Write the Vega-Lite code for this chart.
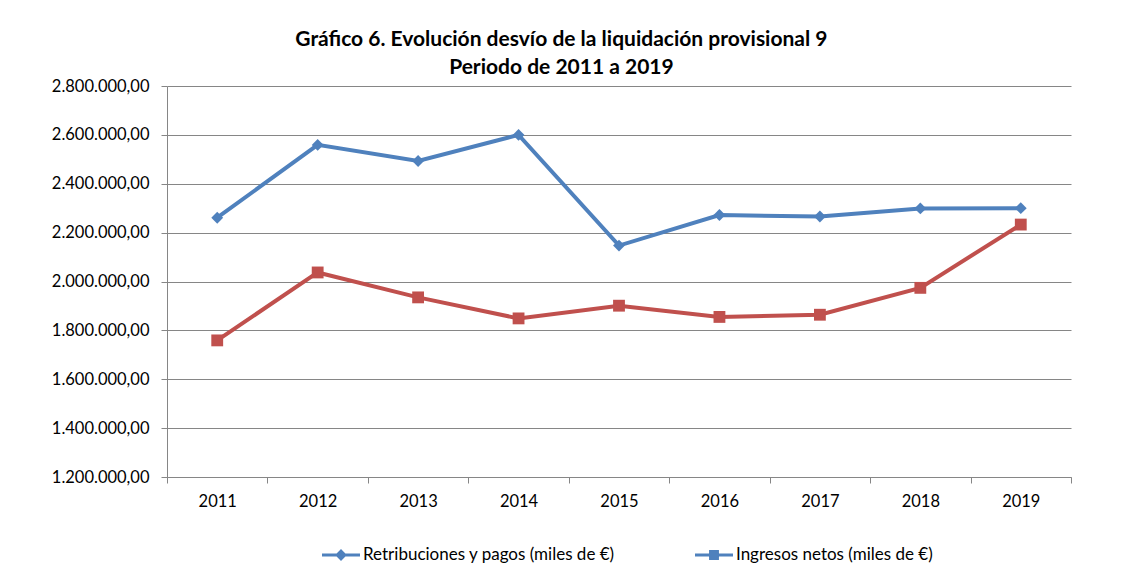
{
  "$schema": "https://vega.github.io/schema/vega-lite/v6.json",
  "width": 904,
  "height": 391,
  "autosize": {"type": "none"},
  "padding": {"left": 167, "top": 86, "right": 58, "bottom": 101},
  "background": "white",
  "config": {
    "font": "Lato",
    "view": {"stroke": null},
    "locale": {"number": {"decimal": ",", "thousands": ".", "grouping": [3], "currency": ["", " €"]}},
    "axis": {"labelFont": "Lato", "labelFontSize": 16.5, "labelColor": "#000000", "domainColor": "#868686", "tickColor": "#868686", "gridColor": "#868686", "tickSize": 6, "title": null}
  },
  "title": {
    "text": ["Gráfico 6. Evolución desvío de la liquidación  provisional 9", "Periodo de 2011 a 2019"],
    "font": "Lato",
    "fontSize": 21,
    "fontWeight": "bold",
    "color": "#000000",
    "lineHeight": 28,
    "anchor": "middle",
    "frame": "bounds",
    "offset": 0
  },
  "data": {
    "values": [
      {"year": "2011", "serie": "Retribuciones y pagos (miles de €)", "value": 2261000},
      {"year": "2012", "serie": "Retribuciones y pagos (miles de €)", "value": 2559000},
      {"year": "2013", "serie": "Retribuciones y pagos (miles de €)", "value": 2493000},
      {"year": "2014", "serie": "Retribuciones y pagos (miles de €)", "value": 2600000},
      {"year": "2015", "serie": "Retribuciones y pagos (miles de €)", "value": 2147000},
      {"year": "2016", "serie": "Retribuciones y pagos (miles de €)", "value": 2272000},
      {"year": "2017", "serie": "Retribuciones y pagos (miles de €)", "value": 2266000},
      {"year": "2018", "serie": "Retribuciones y pagos (miles de €)", "value": 2299000},
      {"year": "2019", "serie": "Retribuciones y pagos (miles de €)", "value": 2300000},
      {"year": "2011", "serie": "Ingresos netos (miles de €)", "value": 1759000},
      {"year": "2012", "serie": "Ingresos netos (miles de €)", "value": 2037000},
      {"year": "2013", "serie": "Ingresos netos (miles de €)", "value": 1935000},
      {"year": "2014", "serie": "Ingresos netos (miles de €)", "value": 1849000},
      {"year": "2015", "serie": "Ingresos netos (miles de €)", "value": 1901000},
      {"year": "2016", "serie": "Ingresos netos (miles de €)", "value": 1855000},
      {"year": "2017", "serie": "Ingresos netos (miles de €)", "value": 1864000},
      {"year": "2018", "serie": "Ingresos netos (miles de €)", "value": 1974000},
      {"year": "2019", "serie": "Ingresos netos (miles de €)", "value": 2233000}
    ]
  },
  "encoding": {
    "x": {
      "field": "year", "type": "ordinal",
      "scale": {"type": "band", "paddingInner": 0, "paddingOuter": 0},
      "axis": {"labelAngle": 0, "tickBand": "extent", "labelPadding": 10, "grid": false}
    },
    "y": {
      "field": "value", "type": "quantitative",
      "scale": {"domain": [1200000, 2800000], "nice": false, "zero": false},
      "axis": {"values": [1200000, 1400000, 1600000, 1800000, 2000000, 2200000, 2400000, 2600000, 2800000], "format": ",.2f", "labelPadding": 12, "grid": true}
    }
  },
  "layer": [
    {
      "mark": {"type": "line", "strokeWidth": 4},
      "encoding": {
        "color": {"field": "serie", "type": "nominal", "legend": null,
          "scale": {"domain": ["Retribuciones y pagos (miles de €)", "Ingresos netos (miles de €)"], "range": ["#4F81BD", "#C0504D"]}}
      }
    },
    {
      "mark": {"type": "point", "filled": true, "opacity": 1},
      "encoding": {
        "color": {"field": "serie", "type": "nominal", "legend": null,
          "scale": {"domain": ["Retribuciones y pagos (miles de €)", "Ingresos netos (miles de €)"], "range": ["#4F81BD", "#C0504D"]}},
        "shape": {"field": "serie", "type": "nominal", "legend": null,
          "scale": {"domain": ["Retribuciones y pagos (miles de €)", "Ingresos netos (miles de €)"], "range": ["diamond", "square"]}},
        "size": {"value": 140}
      }
    },
    {
      "mark": {"type": "point", "filled": true, "opacity": 0},
      "encoding": {
        "fill": {"field": "serie", "type": "nominal",
          "legend": {"orient": "none", "legendX": 155, "legendY": 450, "padding": 0, "direction": "horizontal", "title": null, "symbolSize": 1444, "symbolOpacity": 1, "symbolStrokeWidth": 0, "symbolFillColor": "#4F81BD", "labelFont": "Lato", "labelFontSize": 17, "labelColor": "#000000", "labelOffset": 3, "labelLimit": 500, "columnPadding": 80},
          "scale": {"domain": ["Retribuciones y pagos (miles de €)", "Ingresos netos (miles de €)"], "range": ["#4F81BD", "#C0504D"]}},
        "shape": {"field": "serie", "type": "nominal",
          "legend": {"orient": "none", "legendX": 155, "legendY": 450, "padding": 0, "direction": "horizontal", "title": null, "symbolSize": 1444, "symbolOpacity": 1, "symbolStrokeWidth": 0, "symbolFillColor": "#4F81BD", "labelFont": "Lato", "labelFontSize": 17, "labelColor": "#000000", "labelOffset": 3, "labelLimit": 500, "columnPadding": 80},
          "scale": {"domain": ["Retribuciones y pagos (miles de €)", "Ingresos netos (miles de €)"],
            "range": ["M-1,-0.08H1V0.08H-1Z M0,-0.31L0.31,0L0,0.31L-0.31,0Z", "M-1,-0.08H1V0.08H-1Z M-0.26,-0.26H0.26V0.26H-0.26Z"]}}
      }
    }
  ],
  "resolve": {"scale": {"shape": "independent"}}
}
